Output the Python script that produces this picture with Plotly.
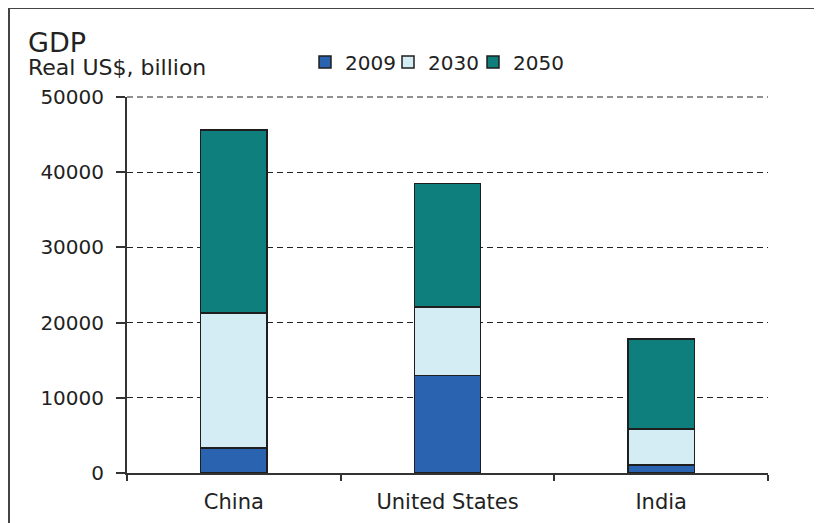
import plotly.graph_objects as go

countries = ["China", "United States", "India"]
years = ["2009", "2030", "2050"]
gdp_2009 = [3350, 12950, 1050]
gdp_2030_increment = [17950, 9150, 4800]
gdp_2050_increment = [24300, 16400, 11950]
y_ticks = [0, 10000, 20000, 30000, 40000, 50000]

colors = ["#2A64B0", "#D4ECF3", "#0E7F7C"]
series = [gdp_2009, gdp_2030_increment, gdp_2050_increment]
legend_ids = ["legend", "legend2", "legend3"]

FONT = "DejaVu Sans, Verdana, sans-serif"

# page offset from the default 8px body margin
OFF = 8
W, H = 822, 523
PL, PR, PT, PB = 127 - OFF, 768 - OFF, 97 - OFF, 473 - OFF
PW, PH = PR - PL, PB - PT


def px(xpage):
    return (xpage - OFF - PL) / PW


def py(ypage):
    return (PB - (ypage - OFF)) / PH


fig = go.Figure()
for name, vals, col, lg in zip(years, series, colors, legend_ids):
    fig.add_trace(go.Bar(
        x=countries, y=vals, name=name, legend=lg,
        marker=dict(color=col, line=dict(color="#1E1E1E", width=1.5)),
        width=0.31,
    ))

leg_common = dict(orientation="h", xanchor="left", yanchor="middle", y=py(62),
                  font=dict(size=20, color="#222222"), itemwidth=30,
                  bgcolor="rgba(0,0,0,0)", borderwidth=0)
legend_text_x = [345, 428, 513]

y_top = y_ticks[-1]

fig.update_layout(
    barmode="stack",
    width=W, height=H,
    margin=dict(l=PL, r=W - PR, t=PT, b=H - PB),
    paper_bgcolor="white", plot_bgcolor="white",
    font=dict(family=FONT, size=20, color="#222222"),
    showlegend=True,
    legend=dict(x=px(legend_text_x[0] - 40), **leg_common),
    legend2=dict(x=px(legend_text_x[1] - 40), **leg_common),
    legend3=dict(x=px(legend_text_x[2] - 40), **leg_common),
    xaxis=dict(showline=True, linecolor="#333333", linewidth=2,
               ticks="outside", tickson="boundaries", ticklen=6, tickcolor="#333333",
               tickwidth=2, showgrid=False, tickfont=dict(size=21),
               ticklabelstandoff=9),
    yaxis=dict(range=[0, y_top], tickvals=y_ticks, tickformat="d",
               showline=True, linecolor="#333333", linewidth=2,
               ticks="outside", ticklen=9, tickcolor="#333333", tickwidth=1.5,
               showgrid=True, gridcolor="#222222", griddash="6px,4px", gridwidth=1.2,
               zeroline=False, tickfont=dict(size=20), ticklabelstandoff=8),
    shapes=[
        # top gridline (plotly drops the one on the range edge); paper ref avoids clipping
        dict(type="line", xref="paper", yref="paper", x0=0, x1=1, y0=1, y1=1,
             line=dict(color="#222222", width=1.2, dash="6px,4px"), layer="below"),
        dict(type="line", xref="paper", yref="paper", x0=px(0), x1=px(830),
             y0=py(8), y1=py(8), line=dict(color="#444444", width=2)),
        dict(type="line", xref="paper", yref="paper", x0=px(9), x1=px(9),
             y0=py(8), y1=py(530), line=dict(color="#444444", width=2)),
    ],
    annotations=[
        dict(text="GDP", xref="paper", yref="paper", x=px(26), y=py(42),
             xanchor="left", yanchor="middle", showarrow=False, font=dict(size=27)),
        dict(text="Real US$, billion", xref="paper", yref="paper", x=px(26), y=py(67),
             xanchor="left", yanchor="middle", showarrow=False, font=dict(size=22)),
    ],
)

fig.write_html("out.html")
